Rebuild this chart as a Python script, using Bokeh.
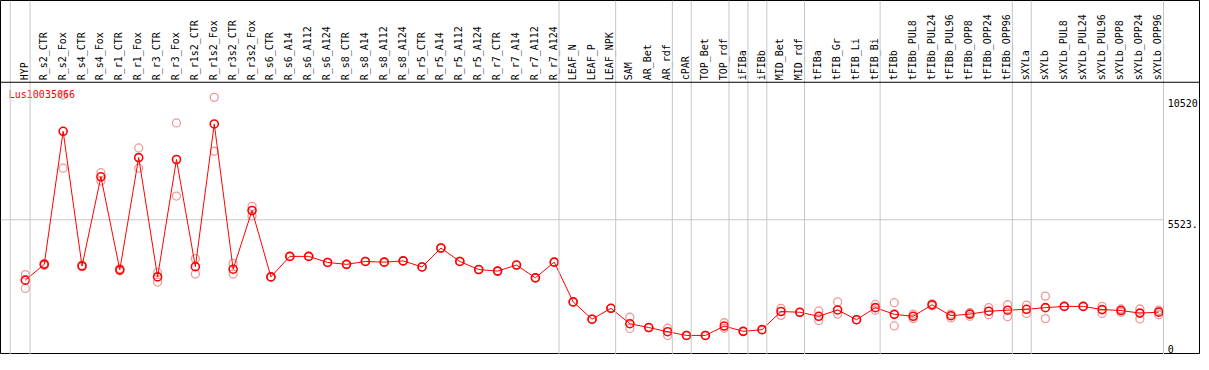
import math
from bokeh.plotting import figure
from bokeh.models import Range1d, Span, ColumnDataSource
from bokeh.core.properties import value
from bokeh.embed import file_html
from bokeh.resources import INLINE

gene = "Lus10035066"

categories = [
    "HYP", "R_s2_CTR", "R_s2_Fox", "R_s4_CTR", "R_s4_Fox", "R_r1_CTR", "R_r1_Fox",
    "R_r3_CTR", "R_r3_Fox", "R_r1s2_CTR", "R_r1s2_Fox", "R_r3s2_CTR", "R_r3s2_Fox",
    "R_s6_CTR", "R_s6_A14", "R_s6_A112", "R_s6_A124", "R_s8_CTR", "R_s8_A14",
    "R_s8_A112", "R_s8_A124", "R_r5_CTR", "R_r5_A14", "R_r5_A112", "R_r5_A124",
    "R_r7_CTR", "R_r7_A14", "R_r7_A112", "R_r7_A124", "LEAF_N", "LEAF_P", "LEAF_NPK",
    "SAM", "AR_Bet", "AR_rdf", "cPAR", "TOP_Bet", "TOP_rdf", "iFIBa", "iFIBb",
    "MID_Bet", "MID_rdf", "tFIBa", "tFIB_Gr", "tFIB_Li", "tFIB_Bi", "tFIBb",
    "tFIBb_PUL8", "tFIBb_PUL24", "tFIBb_PUL96", "tFIBb_OPP8", "tFIBb_OPP24",
    "tFIBb_OPP96", "sXYLa", "sXYLb", "sXYLb_PUL8", "sXYLb_PUL24", "sXYLb_PUL96",
    "sXYLb_OPP8", "sXYLb_OPP24", "sXYLb_OPP96",
]

mean_values = [
    3022, 3676, 9191, 3608, 7305, 3449, 8102, 3157, 8022, 3582, 9497, 3476, 5909,
    3157, 4007, 4007, 3756, 3676, 3796, 3768, 3820, 3569, 4354, 3796, 3461,
    3397, 3648, 3118, 3768, 2121, 1403, 1854,
    1216, 1057, 885, 730, 730, 1120, 900, 970,
    1722, 1690, 1523, 1786, 1383, 1882, 1605,
    1523, 2002, 1547, 1615, 1734, 1775, 1814, 1882, 1934, 1934, 1802,
    1762, 1655, 1695,
]

rep_a = [
    3250, 3720, 10694, 3640, 7476, 3500, 8501, 3342, 9537, 3915, 10598, 3716, 6080,
    3157, 4007, 4007, 3756, 3676, 3796, 3768, 3820, 3569, 4354, 3796, 3461,
    3397, 3648, 3118, 3768, 2121, 1403, 1854,
    1483, 1057, 1029, 730, 730, 1256, 900, 970,
    1854, 1690, 1746, 2121, 1383, 2014, 2087,
    1615, 2040, 1615, 1683, 1882, 2002, 1986, 2360, 1934, 1934, 1934,
    1826, 1826, 1775,
]

rep_b = [
    2679, 3640, 7663, 3580, 7130, 3400, 7663, 2943, 6507, 3277, 8365, 3277, 5682,
    3157, 4007, 4007, 3756, 3676, 3796, 3768, 3820, 3569, 4354, 3796, 3461,
    3397, 3648, 3118, 3768, 2121, 1403, 1854,
    1020, 1057, 726, 730, 730, 1029, 900, 970,
    1563, 1690, 1348, 1615, 1383, 1775, 1124,
    1427, 1960, 1455, 1523, 1587, 1507, 1643, 1427, 1934, 1934, 1643,
    1683, 1415, 1587,
]

group_ends = ["HYP", "R_r7_A124", "LEAF_NPK", "AR_rdf", "cPAR", "TOP_rdf", "iFIBa",
              "iFIBb", "MID_rdf", "tFIB_Bi", "tFIBb_OPP96", "sXYLa", "sXYLb_OPP96"]

tick_values = [10520, 5523, 0]
tick_labels = ["10520", "5523.", "0"]
grid_value = 5523

FONT = value("DejaVu Sans Mono")
RED = "#ff0000"
PALE = "#ec9a9a"
GREY = "#c6c6c6"

n = len(categories)
xs = list(range(n))

x_lo, x_hi = -1.316, 62.21
y_lo, y_hi = -60, 14613
header_y = 11224

p = figure(width=1200, height=354, output_backend="svg", toolbar_location=None,
           x_range=Range1d(x_lo, x_hi), y_range=Range1d(y_lo, y_hi),
           x_axis_location=None, y_axis_location=None, min_border=0)
p.grid.visible = False
p.outline_line_color = "black"
p.outline_line_width = 1
p.background_fill_color = "white"
p.border_fill_color = "white"

# separators
sep_positions = [-0.8] + [categories.index(g) + 0.25 for g in group_ends]
for sx in sep_positions:
    p.add_layout(Span(location=sx, dimension="height", line_color=GREY, line_width=1))

# horizontal grid line at mid value
p.segment(x0=[x_lo], y0=[grid_value], x1=[sep_positions[-1]], y1=[grid_value],
          line_color=GREY, line_width=1)

# header separator
p.add_layout(Span(location=header_y, dimension="width", line_color="black", line_width=1))

src = ColumnDataSource(dict(x=xs, m=mean_values, a=rep_a, b=rep_b, cat=categories))

p.scatter("x", "a", source=src, marker="circle", size=8, fill_color=None,
          line_color=PALE, line_width=1.3)
p.scatter("x", "b", source=src, marker="circle", size=8, fill_color=None,
          line_color=PALE, line_width=1.3)
p.line("x", "m", source=src, line_color=RED, line_width=1)
p.scatter("x", "m", source=src, marker="circle", size=8, fill_color=None,
          line_color=RED, line_width=1.6)

# category labels in header
p.text(x="x", y=11304, text="cat", source=src, angle=math.pi / 2,
       text_align="left", text_baseline="middle", x_offset=-1,
       text_font=FONT, text_font_size="10px", text_color="black")

# gene title
p.text(x=[-0.879], y=[10945], text=[gene], text_align="left", text_baseline="top",
       text_font=FONT, text_font_size="10px", text_color=RED)

# value labels on the right
p.text(x=[60.63] * 2, y=tick_values[:2], text=tick_labels[:2], text_align="left",
       text_baseline="top", x_offset=-3, text_font=FONT, text_font_size="10px",
       text_color="black")
p.text(x=[60.63], y=tick_values[2:], text=tick_labels[2:], text_align="left",
       text_baseline="bottom", x_offset=-3, text_font=FONT, text_font_size="10px",
       text_color="black")

open("out.html", "w").write(file_html(p, INLINE))
